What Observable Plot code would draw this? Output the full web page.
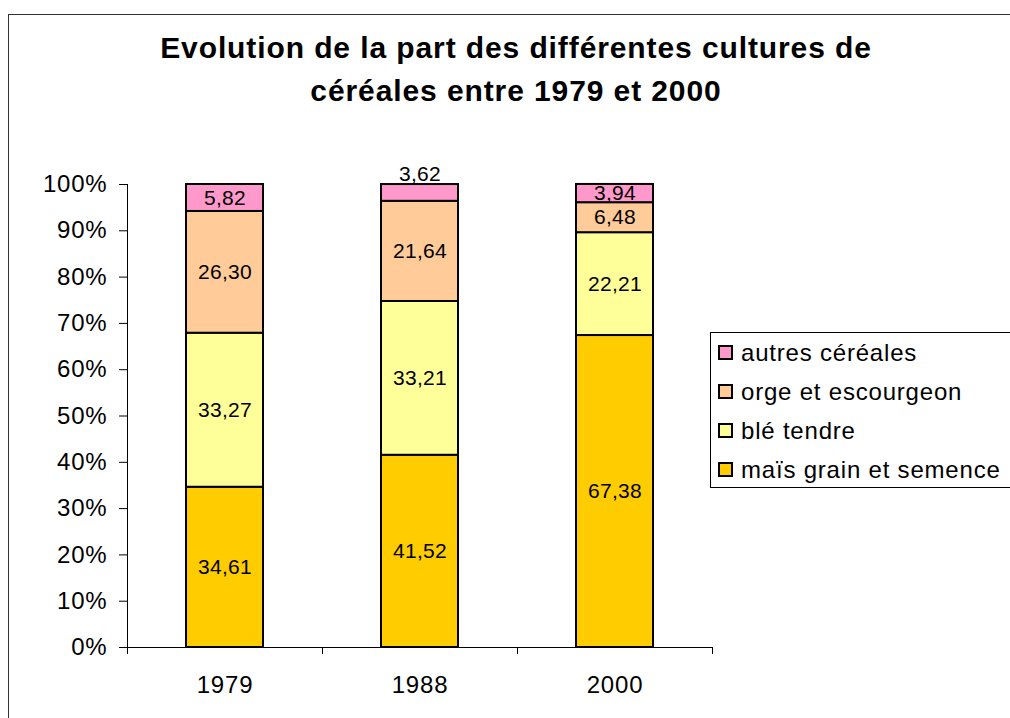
<!DOCTYPE html>
<html>
<head>
<meta charset="utf-8">
<script src="https://cdn.jsdelivr.net/npm/d3@7"></script>
<script src="https://cdn.jsdelivr.net/npm/@observablehq/plot@0.6"></script>
<style>
  html, body { margin: 0; padding: 0; width: 1010px; height: 718px; overflow: hidden; background: #fff; font-family: "Liberation Sans", Arial, sans-serif; }
  #border { position: absolute; left: 8px; top: 14px; width: 1100px; height: 800px; border: 1px solid #333; box-sizing: border-box; }
  #title { position: absolute; left: 0; top: 26px; width: 1032px; text-align: center; font-weight: bold; font-size: 30px; letter-spacing: 0.9px; line-height: 43px; color: #000; }
  #chart { position: absolute; left: 0; top: 0; }
  #chart svg text { letter-spacing: 0.8px; }
  #chart svg g.labels text { letter-spacing: 0.3px; }
  #legend { position: absolute; left: 710px; top: 332px; width: 330px; height: 156px; border: 1px solid #000; box-sizing: border-box; background: #fff; }
  .item { display: flex; align-items: center; height: 39px; font-size: 24px; letter-spacing: 0.8px; color: #000; }
  .sw { width: 11px; height: 11px; border: 2px solid #000; margin-left: 7px; margin-right: 8px; flex: none; }
</style>
</head>
<body>
<div id="border"></div>
<div id="chart"></div>
<div id="title">Evolution de la part des différentes cultures de<br>céréales entre 1979 et 2000</div>
<div id="legend"></div>
<script>
const years = ["1979", "1988", "2000"];
const cultures = ["maïs grain et semence", "blé tendre", "orge et escourgeon", "autres céréales"];
const colors = ["#FFCC00", "#FFFF99", "#FFCC99", "#FF99CC"];
const mais = [34.61, 41.52, 67.38];
const ble = [33.27, 33.21, 22.21];
const orge = [26.30, 21.64, 6.48];
const autres = [5.82, 3.62, 3.94];
const yTicks = [0, 10, 20, 30, 40, 50, 60, 70, 80, 90, 100];
const labelsAbove = [["1988", "autres céréales"]];

const series = [mais, ble, orge, autres];
const data = years.flatMap((yr, i) => cultures.map((c, j) => ({year: yr, culture: c, value: series[j][i]})));
const isAbove = d => labelsAbove.some(([y, c]) => y === d.year && c === d.culture);
const fmt = v => v.toFixed(2).replace(".", ",");

const chart = Plot.plot({
  width: 1010,
  height: 718,
  marginLeft: 127,
  marginRight: 298,
  marginTop: 184,
  marginBottom: 71,
  style: {fontFamily: "'Liberation Sans', Arial, sans-serif", background: "transparent", color: "#000"},
  x: {domain: years, paddingInner: 0.605, paddingOuter: 0.3025},
  y: {domain: [0, 100]},
  color: {domain: cultures, range: colors},
  marks: [
    Plot.barY(data, {x: "year", y: "value", fill: "culture", z: "culture", order: cultures, stroke: "#000", strokeWidth: 2}),
    Plot.text(data, Plot.stackY({x: "year", y: "value", z: "culture", order: cultures, text: d => isAbove(d) ? "" : fmt(d.value), fontSize: 21, fill: "#000", className: "labels"})),
    Plot.text(data, Plot.stackY2({x: "year", y: "value", z: "culture", order: cultures, text: d => isAbove(d) ? fmt(d.value) : "", fontSize: 21, lineAnchor: "middle", dy: -10, fill: "#000", className: "labels"})),
    Plot.axisY({ticks: yTicks, tickFormat: d => d + "%", fontSize: 24, tickSize: 8, tickPadding: 12, label: null}),
    Plot.axisX({tickSize: 0, tickPadding: 28, fontSize: 24, label: null}),
    Plot.ruleY([0], {stroke: "#000"}),
    Plot.frame({anchor: "left", stroke: "#000"}),
    Plot.ruleX(years, {x: d => d, y1: 0, y2: 0, dx: -97.5, insetBottom: -7, stroke: "#000"}),
    Plot.ruleX(years.slice(-1), {x: d => d, y1: 0, y2: 0, dx: 97.5, insetBottom: -7, stroke: "#000"})
  ]
});
document.getElementById("chart").appendChild(chart);

const legend = document.getElementById("legend");
cultures.slice().reverse().forEach(c => {
  const row = document.createElement("div");
  row.className = "item";
  const sw = document.createElement("span");
  sw.className = "sw";
  sw.style.background = colors[cultures.indexOf(c)];
  row.appendChild(sw);
  row.appendChild(document.createTextNode(c));
  legend.appendChild(row);
});
</script>
</body>
</html>
